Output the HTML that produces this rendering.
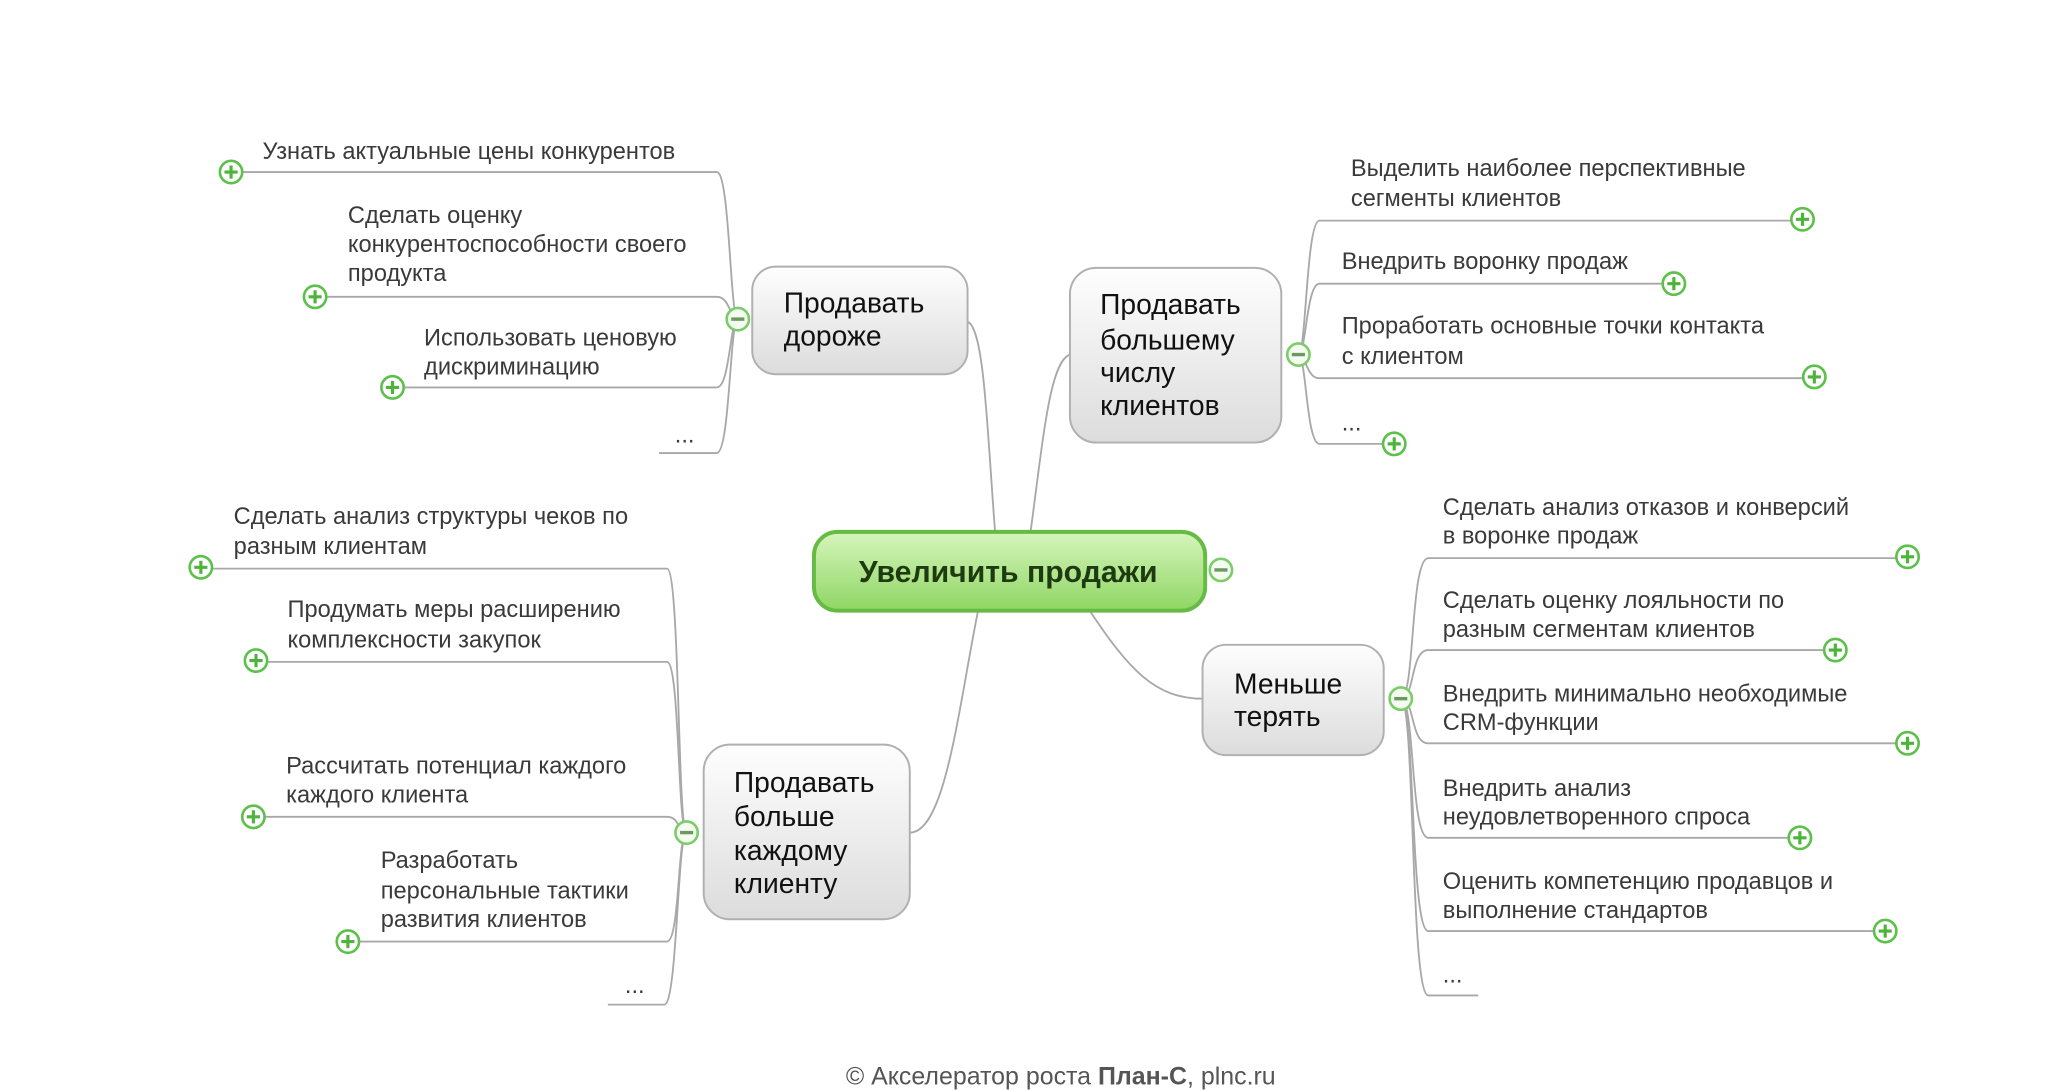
<!DOCTYPE html>
<html><head><meta charset="utf-8"><style>
html,body{margin:0;padding:0;background:#fff;}
svg{display:block;}
text{font-family:"Liberation Sans","DejaVu Sans",sans-serif;}
.t{font-size:18px;fill:#3a3a3a;}
.n{font-size:21.5px;fill:#111;}
.l{fill:none;stroke:#a8a8a8;stroke-width:1.4;}
</style></head><body>
<svg width="2048" height="1090" viewBox="0 0 1560 830" preserveAspectRatio="none" xmlns="http://www.w3.org/2000/svg">
<defs>
<linearGradient id="g" x1="0" y1="0" x2="0" y2="1"><stop offset="0" stop-color="#fefefe"/><stop offset="1" stop-color="#dcdcdc"/></linearGradient>
<linearGradient id="gg" x1="0" y1="0" x2="0" y2="1"><stop offset="0" stop-color="#d6f5bd"/><stop offset="1" stop-color="#8fd663"/></linearGradient>
<g id="p"><circle r="8.5" fill="#fff" stroke="#5cc04a" stroke-width="2"/><path d="M-5 0H5M0 -5V5" stroke="#4cb43a" stroke-width="2.4"/></g>
<g id="m"><circle r="8.5" fill="#f4fbf0" stroke="#7ccc6a" stroke-width="2"/><path d="M-5 0H5" stroke="#6a9a60" stroke-width="2.6"/></g>
</defs>

<path class="l" d="M758 405 C752 330 750 250 737 245"/>
<path class="l" d="M785 405 C795 330 800 275 815 270"/>
<path class="l" d="M830 465 C860 510 880 532 916 532"/>
<path class="l" d="M745 465 C730 540 720 634 693 634"/>

<path class="l" d="M176 131 H546 C556 131 556 243 562 243"/>
<path class="l" d="M240 226 H546 C556 226 556 243 562 243"/>
<path class="l" d="M299 295 H546 C556 295 556 243 562 243"/>
<path class="l" d="M502 345 H546 C556 345 556 243 562 243"/>
<text class="t" x="200" y="121">Узнать актуальные цены конкурентов</text>
<text class="t" x="265" y="170">Сделать оценку</text>
<text class="t" x="265" y="192">конкурентоспособности своего</text>
<text class="t" x="265" y="214">продукта</text>
<text class="t" x="323" y="263">Использовать ценовую</text>
<text class="t" x="323" y="285">дискриминацию</text>
<text class="t" x="514" y="337">...</text>

<path class="l" d="M989 270 C995 270 995 168 1005 168 H1373"/>
<path class="l" d="M989 270 C995 270 995 216 1005 216 H1275"/>
<path class="l" d="M989 270 C995 270 995 288 1005 288 H1382"/>
<path class="l" d="M989 270 C995 270 995 338 1005 338 H1062"/>
<text class="t" x="1029" y="134">Выделить наиболее перспективные</text>
<text class="t" x="1029" y="157">сегменты клиентов</text>
<text class="t" x="1022" y="205">Внедрить воронку продаж</text>
<text class="t" x="1022" y="254">Проработать основные точки контакта</text>
<text class="t" x="1022" y="277">с клиентом</text>
<text class="t" x="1022" y="328">...</text>

<path class="l" d="M1067 532 C1078 532 1074 425 1088 425 H1453"/>
<path class="l" d="M1067 532 C1078 532 1074 495 1088 495 H1398"/>
<path class="l" d="M1067 532 C1078 532 1074 566 1088 566 H1453"/>
<path class="l" d="M1067 532 C1078 532 1074 638 1088 638 H1371"/>
<path class="l" d="M1067 532 C1078 532 1074 709 1088 709 H1436"/>
<path class="l" d="M1067 532 C1078 532 1074 758 1088 758 H1126"/>
<text class="t" x="1099" y="392">Сделать анализ отказов и конверсий</text>
<text class="t" x="1099" y="414">в воронке продаж</text>
<text class="t" x="1099" y="463">Сделать оценку лояльности по</text>
<text class="t" x="1099" y="485">разным сегментам клиентов</text>
<text class="t" x="1099" y="534">Внедрить минимально необходимые</text>
<text class="t" x="1099" y="556">CRM-функции</text>
<text class="t" x="1099" y="606">Внедрить анализ</text>
<text class="t" x="1099" y="628">неудовлетворенного спроса</text>
<text class="t" x="1099" y="677">Оценить компетенцию продавцов и</text>
<text class="t" x="1099" y="699">выполнение стандартов</text>
<text class="t" x="1099" y="748">...</text>

<path class="l" d="M153 433 H508 C518 433 516 634 523 634"/>
<path class="l" d="M195 504 H508 C518 504 516 634 523 634"/>
<path class="l" d="M193 622 H508 C518 622 516 634 523 634"/>
<path class="l" d="M265 717 H508 C518 717 516 634 523 634"/>
<path class="l" d="M463 765 H506 C516 765 516 634 523 634"/>
<text class="t" x="178" y="399">Сделать анализ структуры чеков по</text>
<text class="t" x="178" y="422">разным клиентам</text>
<text class="t" x="219" y="470">Продумать меры расширению</text>
<text class="t" x="219" y="493">комплексности закупок</text>
<text class="t" x="218" y="589">Рассчитать потенциал каждого</text>
<text class="t" x="218" y="611">каждого клиента</text>
<text class="t" x="290" y="661">Разработать</text>
<text class="t" x="290" y="684">персональные тактики</text>
<text class="t" x="290" y="706">развития клиентов</text>
<text class="t" x="476" y="756">...</text>

<rect x="573" y="203" width="164" height="82" rx="18" fill="url(#g)" stroke="#b0b0b0" stroke-width="1.5"/>
<text class="n" x="597" y="238">Продавать</text><text class="n" x="597" y="263">дороже</text>
<rect x="815" y="204" width="161" height="133" rx="20" fill="url(#g)" stroke="#b0b0b0" stroke-width="1.5"/>
<text class="n" x="838" y="239">Продавать</text><text class="n" x="838" y="266">большему</text><text class="n" x="838" y="291">числу</text><text class="n" x="838" y="316">клиентов</text>
<rect x="916" y="491" width="138" height="84" rx="18" fill="url(#g)" stroke="#b0b0b0" stroke-width="1.5"/>
<text class="n" x="940" y="528">Меньше</text><text class="n" x="940" y="553">терять</text>
<rect x="536" y="567" width="157" height="133" rx="20" fill="url(#g)" stroke="#b0b0b0" stroke-width="1.5"/>
<text class="n" x="559" y="603">Продавать</text><text class="n" x="559" y="629">больше</text><text class="n" x="559" y="655">каждому</text><text class="n" x="559" y="680">клиенту</text>

<rect x="620" y="405" width="298" height="60" rx="18" fill="url(#gg)" stroke="#66bb44" stroke-width="3"/>
<text x="768" y="443" text-anchor="middle" style="font-size:23px;font-weight:bold;fill:#1e3a10">Увеличить продажи</text>

<use href="#m" x="930" y="434"/>
<use href="#m" x="562" y="243"/>
<use href="#m" x="989" y="270"/>
<use href="#m" x="1067" y="532"/>
<use href="#m" x="523" y="634"/>
<use href="#p" x="176" y="131"/><use href="#p" x="240" y="226"/><use href="#p" x="299" y="295"/>
<use href="#p" x="1373" y="167"/><use href="#p" x="1275" y="216"/><use href="#p" x="1382" y="287"/><use href="#p" x="1062" y="338"/>
<use href="#p" x="1453" y="424"/><use href="#p" x="1398" y="495"/><use href="#p" x="1453" y="566"/><use href="#p" x="1371" y="638"/><use href="#p" x="1436" y="709"/>
<use href="#p" x="153" y="432"/><use href="#p" x="195" y="503"/><use href="#p" x="193" y="622"/><use href="#p" x="265" y="717"/>

<text x="808" y="826" text-anchor="middle" style="font-size:19px;fill:#555">© Акселератор роста <tspan font-weight="bold">План-С</tspan>, plnc.ru</text>
</svg>
</body></html>
